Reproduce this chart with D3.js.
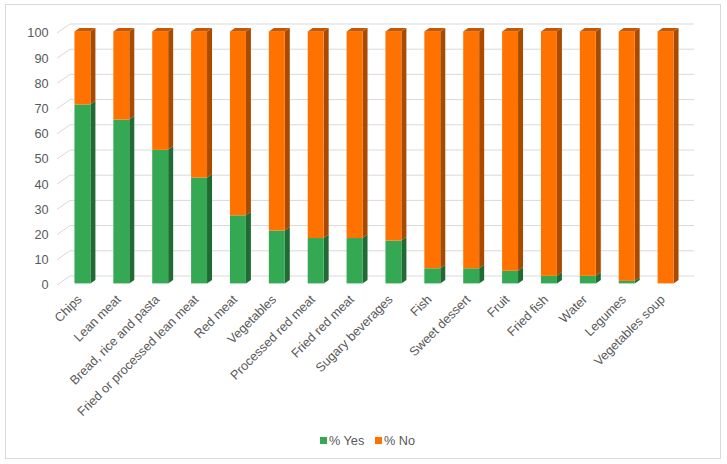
<!DOCTYPE html>
<html>
<head>
<meta charset="utf-8">
<script src="https://cdn.jsdelivr.net/npm/d3@7"></script>
<style>
  body { margin: 0; background: #fff; }
  text { font-family: "Liberation Sans", Arial, sans-serif; }
</style>
</head>
<body>
<div id="chart"></div>
<script>
// data
var categories = ["Chips", "Lean meat", "Bread, rice and pasta", "Fried or processed lean meat",
  "Red meat", "Vegetables", "Processed red meat", "Fried red meat", "Sugary beverages",
  "Fish", "Sweet dessert", "Fruit", "Fried fish", "Water", "Legumes", "Vegetables soup"]
var yesValues = [71, 65, 53, 42, 27, 21, 18, 18, 17, 6, 6, 5, 3, 3, 1, 0]
var noValues = [29, 35, 47, 58, 73, 79, 82, 82, 83, 94, 94, 95, 97, 97, 99, 100]
var seriesNames = ["% Yes", "% No"]
var yTicks = [0, 10, 20, 30, 40, 50, 60, 70, 80, 90, 100]

var W = 727, H = 464
var depth = {dx: 5, dy: -3.5}     // bar depth
var wall = {dx: 13, dy: -9}       // back wall offset for gridlines

var colors = {
  yes: {front: "#34a853", side: "#1f6b33", top: "#2a8c45"},
  no:  {front: "#ff7200", side: "#a84a00", top: "#c75700"}
}

var svg = d3.select("#chart").append("svg")
  .attr("width", W).attr("height", H)

// chart border
svg.append("rect")
  .attr("x", 5.5).attr("y", 4.5).attr("width", 715).attr("height", 454)
  .attr("fill", "none").attr("stroke", "#d9d9d9")

var x = d3.scaleBand().domain(categories).range([62, 684])
  .paddingInner(0.59).paddingOuter(0.295)

// front plane of the axis
var y = d3.scaleLinear().domain([0, 100]).range([285, 33])

// gridlines: diagonal on the floor side + horizontal on the back wall
var grid = svg.append("g")
yTicks.forEach(function(t) {
  var yf = y(t)
  grid.append("path")
    .attr("d", "M57," + yf + "L" + (57 + wall.dx) + "," + (yf + wall.dy) + "H694")
    .attr("fill", "none").attr("stroke", "#d9d9d9").attr("stroke-width", 1)
  grid.append("text")
    .attr("x", 48.5).attr("y", yf).attr("dy", "0.35em")
    .attr("text-anchor", "end")
    .style("font-size", "12.7px").style("fill", "#595959")
    .text(t)
})

// bars sit slightly behind the front plane
function by(v) { return y(v) - 1.6 }
var barOff = 1

var bars = svg.append("g")
categories.forEach(function(c, i) {
  var x0 = x(c) + barOff, bw = x.bandwidth()
  var segs = [
    {v0: 0, v1: yesValues[i], col: colors.yes},
    {v0: yesValues[i], v1: yesValues[i] + noValues[i], col: colors.no}
  ]
  segs.forEach(function(s) {
    if (s.v1 - s.v0 <= 0) return
    var yt = by(s.v1), yb = by(s.v0)
    // side face
    bars.append("polygon")
      .attr("points", [[x0 + bw, yt], [x0 + bw + depth.dx, yt + depth.dy],
        [x0 + bw + depth.dx, yb + depth.dy], [x0 + bw, yb]].join(" "))
      .attr("fill", s.col.side)
    // front face
    bars.append("rect")
      .attr("x", x0).attr("y", yt).attr("width", bw).attr("height", yb - yt)
      .attr("fill", s.col.front)
  })
  // top face of the stack
  var top = by(yesValues[i] + noValues[i])
  bars.append("polygon")
    .attr("points", [[x0, top], [x0 + depth.dx, top + depth.dy],
      [x0 + bw + depth.dx, top + depth.dy], [x0 + bw, top]].join(" "))
    .attr("fill", colors.no.top)
})

// category labels
svg.append("g").selectAll("text")
  .data(categories).enter()
  .append("text")
    .attr("transform", function(d) {
      return "translate(" + (x(d) + x.bandwidth() / 2 - 2) + ",297) rotate(-45)"
    })
    .attr("text-anchor", "end")
    .attr("dy", "0.35em")
    .style("font-size", "12.7px").style("fill", "#595959")
    .text(function(d) { return d })

// legend
var legend = [
  {name: seriesNames[0], col: colors.yes.front, x: 320},
  {name: seriesNames[1], col: colors.no.front, x: 375}
]
legend.forEach(function(l) {
  svg.append("rect").attr("x", l.x).attr("y", 437).attr("width", 7).attr("height", 7)
    .attr("fill", l.col)
  svg.append("text").attr("x", l.x + 9).attr("y", 441).attr("dy", "0.35em")
    .style("font-size", "12.7px").style("fill", "#595959")
    .text(l.name)
})
</script>
</body>
</html>
